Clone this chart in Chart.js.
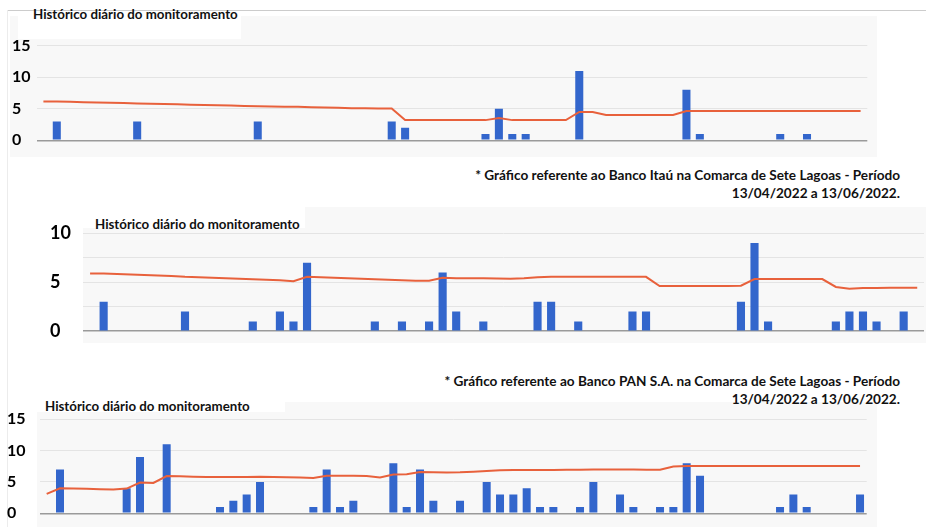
<!DOCTYPE html>
<html>
<head>
<meta charset="utf-8">
<script src="https://cdn.jsdelivr.net/npm/chart.js@4.4.0/dist/chart.umd.min.js"></script>
<style>
  body { margin: 0; width: 926px; height: 527px; background: #fff; position: relative; overflow: hidden; font-family: 'Lato', sans-serif; }
  .abs { position: absolute; }
  .bg { position: absolute; background: #f8f8f8; }
  .wbox { position: absolute; background: #fff; }
  .title { position: absolute; font-weight: bold; font-size: 13.3px; line-height: 16px; color: #111; white-space: nowrap; }
  .caption { position: absolute; right: 26px; text-align: right; font-weight: bold; font-size: 13.6px; line-height: 18px; color: #111; white-space: nowrap; }
  .box { position: absolute; }
</style>
</head>
<body>
<div class="abs" style="left:7px;top:10px;width:919px;height:1px;background:#cccccc"></div>
<div class="abs" style="left:7px;top:10px;width:1px;height:517px;background:#ececec"></div>

<div class="bg" style="left:10px;top:16px;width:867px;height:141px"></div>
<div class="wbox" style="left:18px;top:16px;width:223px;height:23px"></div>
<div class="bg" style="left:83px;top:207px;width:843px;height:136px"></div>
<div class="wbox" style="left:83px;top:207px;width:222px;height:21px"></div>
<div class="bg" style="left:37px;top:402px;width:840px;height:125px"></div>
<div class="wbox" style="left:37px;top:402px;width:248px;height:10px"></div>

<div class="title" style="left:33px;top:6px">Histórico diário do monitoramento</div>
<div class="title" style="left:95px;top:216px">Histórico diário do monitoramento</div>
<div class="title" style="left:45px;top:398px">Histórico diário do monitoramento</div>

<div class="caption" style="top:166px">* Gráfico referente ao Banco Itaú na Comarca de Sete Lagoas - Período<br>13/04/2022 a 13/06/2022.</div>
<div class="caption" style="top:372px">* Gráfico referente ao Banco PAN S.A. na Comarca de Sete Lagoas - Período<br>13/04/2022 a 13/06/2022.</div>

<div class="box" style="left:0;top:30px;width:880px;height:125px"><canvas id="chart1"></canvas></div>
<div class="box" style="left:0;top:215px;width:926px;height:130px"><canvas id="chart2"></canvas></div>
<div class="box" style="left:0;top:405px;width:880px;height:122px"><canvas id="chart3"></canvas></div>

<script>
// 62 days: 13/04/2022 .. 13/06/2022
const days = [];
for (let d = 0; d < 62; d++) {
    const dt = new Date(2022, 3, 13 + d);
    days.push(String(dt.getDate()).padStart(2, '0') + '/' + String(dt.getMonth() + 1).padStart(2, '0'));
}

// Chart 1 (Itaú) - daily counts and trend line
const itauBars = [0,3,0,0,0,0,0,3,0,0, 0,0,0,0,0,0,3,0,0,0, 0,0,0,0,0,0,3,2,0,0,
                  0,0,0,1,5,1,1,0,0,0, 11,0,0,0,0,0,0,0,8,1, 0,0,0,0,0,1,0,1,0,0, 0,0];
const itauLine = [6.15,6.15,6.1,6.05,6.0,5.95,5.9,5.85,5.8,5.75, 5.7,5.65,5.6,5.55,5.5,5.45,5.4,5.35,5.3,5.3,
                  5.25,5.2,5.15,5.1,5.1,5.05,5.05,3.2,3.2,3.2, 3.2,3.2,3.2,3.2,3.55,3.2,3.2,3.2,3.2,3.2,
                  4.5,4.5,4.0,4.0,4.0,4.0,4.0,4.0,4.65,4.65, 4.65,4.65,4.65,4.65,4.65,4.65,4.65,4.65,4.65,4.65, 4.65,4.65];

// Chart 2 (second bank)
const bank2Bars = [0,3,0,0,0,0,0,2,0,0, 0,0,1,0,2,1,7,0,0,0, 0,1,0,1,0,1,6,2,0,1,
                   0,0,0,3,3,0,1,0,0,0, 2,2,0,0,0,0,0,0,3,9, 1,0,0,0,0,1,2,2,1,0, 2,0];
const bank2Line = [5.9,5.9,5.85,5.8,5.75,5.7,5.65,5.55,5.5,5.45, 5.4,5.35,5.3,5.25,5.2,5.1,5.55,5.5,5.45,5.4,
                   5.35,5.3,5.25,5.2,5.15,5.15,5.45,5.4,5.4,5.4, 5.38,5.36,5.4,5.5,5.55,5.55,5.55,5.55,5.55,5.55,
                   5.55,5.55,4.62,4.62,4.62,4.62,4.62,4.62,4.65,5.33, 5.33,5.33,5.33,5.33,5.33,4.52,4.34,4.4,4.42,4.44, 4.45,4.45];

// Chart 3 (Banco PAN)
const panBars = [0,7,0,0,0,0,4,9,0,11, 0,0,0,1,2,3,5,0,0,0, 1,7,1,2,0,0,8,1,7,2,
                 0,2,0,5,3,3,4,1,1,0, 1,5,0,3,1,0,1,1,8,6, 0,0,0,0,0,1,3,1,0,0, 0,3];
const panLine = [3.1,4.0,3.95,3.9,3.85,3.8,3.95,4.9,4.85,5.95, 5.9,5.85,5.8,5.8,5.8,5.8,5.85,5.8,5.75,5.7,
                 5.65,6.0,6.0,6.0,5.95,5.7,6.2,6.25,6.6,6.55, 6.5,6.55,6.65,6.75,6.85,6.9,6.9,6.9,6.9,6.95,
                 6.95,7.0,7.0,7.0,7.0,6.95,6.95,7.45,7.55,7.55, 7.55,7.55,7.55,7.55,7.55,7.55,7.55,7.55,7.55,7.55, 7.55,7.55];

const barColor = '#3366cc';
const lineColor = '#e8613c';

function makeChart(id, bars, line, yMax, labelSize, pad, axisWidth) {
    const ctx = document.getElementById(id);
    return new Chart(ctx, {
        type: 'bar',
        data: {
            labels: days,
            datasets: [
                {
                    type: 'line',
                    data: line,
                    borderColor: lineColor,
                    borderWidth: 2,
                    pointRadius: 0,
                    tension: 0,
                    order: 0
                },
                {
                    type: 'bar',
                    data: bars,
                    backgroundColor: barColor,
                    categoryPercentage: 1,
                    barPercentage: 0.6,
                    order: 1
                }
            ]
        },
        options: {
            responsive: true,
            maintainAspectRatio: false,
            animation: false,
            layout: { padding: pad },
            plugins: {
                legend: { display: false },
                tooltip: { enabled: false }
            },
            scales: {
                x: { display: false },
                y: {
                    min: 0,
                    max: yMax,
                    afterFit: function(scale) { scale.width = axisWidth; },
                    border: { display: false },
                    grid: {
                        drawTicks: false,
                        color: c => c.tick.value === 0 ? '#9a9a9a' : '#e4e4e4',
                        lineWidth: c => c.tick.value === 0 ? 1.5 : 1
                    },
                    ticks: {
                        stepSize: 2.5,
                        crossAlign: 'far',
                        color: '#000',
                        font: { family: 'Lato', weight: 'bold', size: labelSize },
                        callback: v => (v % 5 === 0 ? v : '')
                    }
                }
            }
        }
    });
}

makeChart('chart1', itauBars, itauLine, 15, 16, { left: 12, right: 12.7, top: 15.7, bottom: 14.7 }, 24.7);
makeChart('chart2', bank2Bars, bank2Line, 10, 18, { left: 50, right: 2, top: 18.3, bottom: 13.3 }, 33.3);
makeChart('chart3', panBars, panLine, 15, 16, { left: 7, right: 13.3, top: 14.3, bottom: 13.7 }, 33);
</script>
</body>
</html>
